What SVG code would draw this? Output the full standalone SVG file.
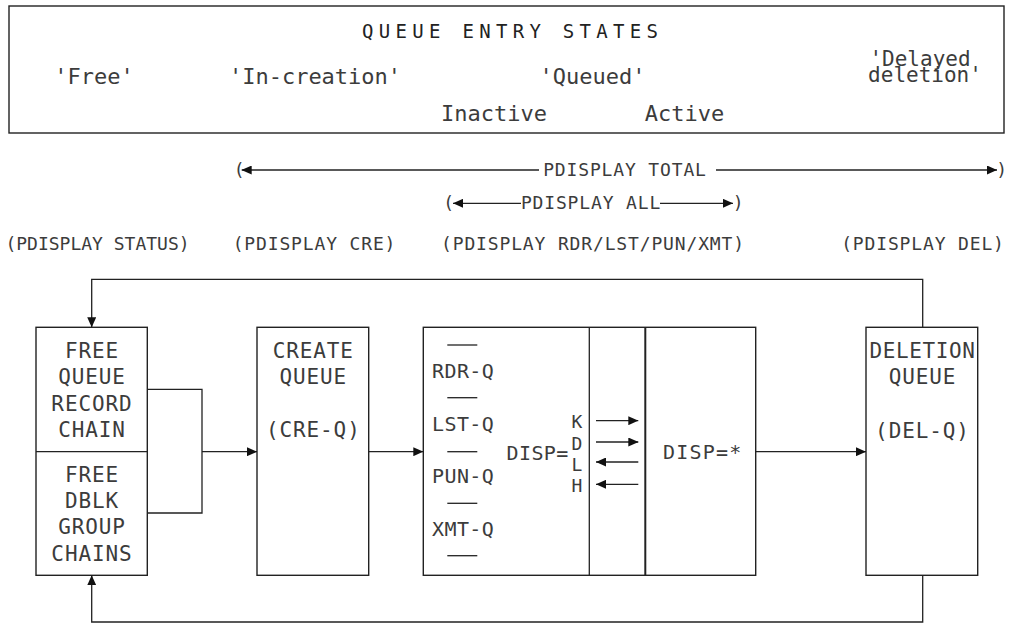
<svg xmlns="http://www.w3.org/2000/svg" width="1011" height="624" viewBox="0 0 1011 624">
  <style>
    text { font-family: "DejaVu Sans Mono", "Liberation Mono", monospace; fill: #3c3c3c; }
    .title { font-size: 19px; letter-spacing: 5.3px; fill: #222; }
    .state { font-size: 22px; text-anchor: middle; }
    .cmd { font-size: 18px; letter-spacing: 0.85px; text-anchor: middle; }
    .lbl { font-size: 21px; letter-spacing: 0.9px; text-anchor: middle; }
    .q { font-size: 20px; letter-spacing: 0.4px; }
    .disp { font-size: 18px; text-anchor: middle; }
    .box { fill: #fff; stroke: #222; stroke-width: 1.4; }
    .ln { fill: none; stroke: #222; stroke-width: 1.3; }
    .arr { fill: none; stroke: #222; stroke-width: 1.3; marker-end: url(#head); }
  </style>
  <defs>
    <marker id="head" markerUnits="userSpaceOnUse" markerWidth="10" markerHeight="9" refX="10" refY="4.5" orient="auto">
      <path d="M0,0 L10,4.5 L0,9 z" fill="#111"/>
    </marker>
  </defs>

  <rect width="1011" height="624" fill="#fff"/>

  <!-- queue entry states banner -->
  <g id="states">
    <rect class="box" x="9" y="6" width="995" height="127"/>
    <text class="title" x="362" y="37.5">QUEUE ENTRY STATES</text>
    <text class="state" x="94" y="84">'Free'</text>
    <text class="state" x="315" y="84">'In-creation'</text>
    <text class="state" x="592.5" y="84">'Queued'</text>
    <text class="state" x="920" y="65.5" style="font-size:21px">'Delayed</text>
    <text class="state" x="925" y="82" style="font-size:21px">deletion'</text>
    <text class="state" x="494" y="120.5">Inactive</text>
    <text class="state" x="684.5" y="120.5">Active</text>
  </g>

  <!-- display command ranges -->
  <g id="commands">
    <text class="cmd" x="239.5" y="176">(</text>
    <text class="cmd" x="625" y="176">PDISPLAY TOTAL</text>
    <text class="cmd" x="1002" y="176">)</text>
    <text class="cmd" x="449" y="209">(</text>
    <text class="cmd" x="591" y="209">PDISPLAY ALL</text>
    <text class="cmd" x="738.5" y="209">)</text>
    <text class="cmd" x="97.5" y="250" style="letter-spacing:0">(PDISPLAY STATUS)</text>
    <text class="cmd" x="314.5" y="250">(PDISPLAY CRE)</text>
    <text class="cmd" x="593" y="250">(PDISPLAY RDR/LST/PUN/XMT)</text>
    <text class="cmd" x="923" y="250">(PDISPLAY DEL)</text>
  </g>

  <!-- free chains -->
  <g id="free">
    <rect class="box" x="36" y="327.3" width="111.3" height="248"/>
    <line class="ln" x1="36" y1="451.7" x2="147.3" y2="451.7"/>
    <text class="lbl" x="92" y="358.3">FREE</text>
    <text class="lbl" x="92" y="384.3">QUEUE</text>
    <text class="lbl" x="92" y="410.7">RECORD</text>
    <text class="lbl" x="92" y="436.7">CHAIN</text>
    <text class="lbl" x="92" y="482">FREE</text>
    <text class="lbl" x="92" y="507.7">DBLK</text>
    <text class="lbl" x="92" y="534.3">GROUP</text>
    <text class="lbl" x="92" y="560.7">CHAINS</text>
  </g>

  <!-- create queue -->
  <g id="create">
    <rect class="box" x="257" y="327.3" width="111.7" height="248"/>
    <text class="lbl" x="313.3" y="358.3">CREATE</text>
    <text class="lbl" x="313.3" y="384.3">QUEUE</text>
    <text class="lbl" x="313.3" y="437">(CRE-Q)</text>
  </g>

  <!-- class queues, inactive and active -->
  <g id="queues">
    <rect class="box" x="423.3" y="327.3" width="332.4" height="248"/>
    <line class="ln" x1="589.3" y1="327.3" x2="589.3" y2="575.3"/>
    <line class="ln" x1="645.3" y1="327.3" x2="645.3" y2="575.3" style="stroke-width:2"/>
    <g class="ln">
      <line x1="447.3" y1="345" x2="477.3" y2="345"/>
      <line x1="447.3" y1="397.7" x2="477.3" y2="397.7"/>
      <line x1="447.3" y1="451.7" x2="477.3" y2="451.7"/>
      <line x1="447.3" y1="503.3" x2="477.3" y2="503.3"/>
      <line x1="447.3" y1="555.7" x2="477.3" y2="555.7"/>
    </g>
    <text class="q" x="432" y="378.3">RDR-Q</text>
    <text class="q" x="432" y="430.7">LST-Q</text>
    <text class="q" x="432" y="482.7">PUN-Q</text>
    <text class="q" x="432" y="535.7">XMT-Q</text>
    <text class="q" x="506.5" y="460">DISP=</text>
    <text class="disp" x="577" y="428.3">K</text>
    <text class="disp" x="577" y="449.5">D</text>
    <text class="disp" x="577" y="470.5">L</text>
    <text class="disp" x="577" y="491.7">H</text>
    <text class="q" x="663" y="459" style="letter-spacing:1.2px">DISP=*</text>
    <path class="arr" d="M596 420.7 H638.3"/>
    <path class="arr" d="M596 442 H638.3"/>
    <path class="arr" d="M638.3 462 H596"/>
    <path class="arr" d="M638.3 484.3 H596"/>
  </g>

  <!-- deletion queue -->
  <g id="deletion">
    <rect class="box" x="866" y="327.3" width="111.7" height="248"/>
    <text class="lbl" x="922.5" y="358.3" style="letter-spacing:0.6px">DELETION</text>
    <text class="lbl" x="922.5" y="384.3">QUEUE</text>
    <text class="lbl" x="922.5" y="438.3">(DEL-Q)</text>
  </g>

  <!-- connectors -->
  <g id="connectors">
    <path class="arr" d="M539 170 H241.7"/>
    <path class="arr" d="M716 170 H997"/>
    <path class="arr" d="M521 203.3 H453"/>
    <path class="arr" d="M660 203.3 H733"/>
    <path class="ln" d="M147.3 389.3 H202 V513 H147.3"/>
    <path class="arr" d="M202 451.7 H257"/>
    <path class="arr" d="M368.7 451.7 H423.3"/>
    <path class="arr" d="M755.7 451.7 H866"/>
    <path class="arr" d="M922.7 327.3 V279.3 H91.7 V327.3"/>
    <path class="arr" d="M922.7 575.3 V622 H91.7 V575.3"/>
  </g>
</svg>
